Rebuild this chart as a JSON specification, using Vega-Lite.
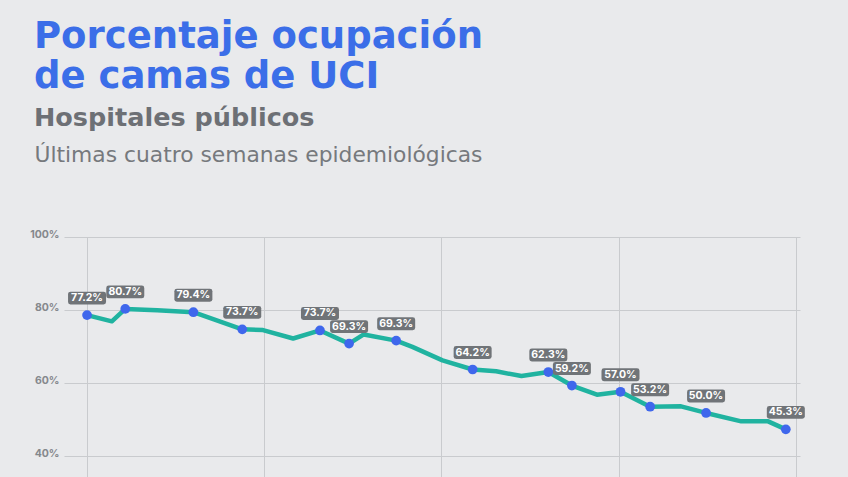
{
  "$schema": "https://vega.github.io/schema/vega-lite/v6.json",
  "width": 736,
  "height": 240,
  "autosize": {"type": "none"},
  "padding": {"left": 64, "top": 237, "right": 48, "bottom": 0},
  "background": "#e9eaec",
  "title": {
    "text": ["Porcentaje ocupación", "de camas de UCI"],
    "subtitle": "Hospitales públicos",
    "anchor": "start",
    "frame": "group",
    "dx": -30,
    "font": "DejaVu Sans",
    "fontSize": 37,
    "fontWeight": "bold",
    "lineHeight": 40,
    "color": "#3b6ee8",
    "subtitleFont": "DejaVu Sans",
    "subtitleFontSize": 25.5,
    "subtitleFontWeight": "bold",
    "subtitleColor": "#6d7075",
    "subtitlePadding": 10,
    "offset": 12
  },
  "config": {
    "view": {"stroke": null},
    "axis": {"gridColor": "#c9cbce", "gridWidth": 1, "domain": false, "ticks": false}
  },
  "data": {
    "values": [
      {"dia": 0, "ocupacion": 78.6, "etiqueta": "77.2%"},
      {"dia": 0.98, "ocupacion": 76.9, "etiqueta": null},
      {"dia": 1.51, "ocupacion": 80.3, "etiqueta": "80.7%"},
      {"dia": 2.77, "ocupacion": 79.9, "etiqueta": null},
      {"dia": 4.2, "ocupacion": 79.4, "etiqueta": "79.4%"},
      {"dia": 6.13, "ocupacion": 74.7, "etiqueta": "73.7%"},
      {"dia": 6.95, "ocupacion": 74.5, "etiqueta": null},
      {"dia": 8.14, "ocupacion": 72.2, "etiqueta": null},
      {"dia": 9.2, "ocupacion": 74.4, "etiqueta": "73.7%"},
      {"dia": 10.35, "ocupacion": 70.8, "etiqueta": "69.3%"},
      {"dia": 10.93, "ocupacion": 73.3, "etiqueta": null},
      {"dia": 12.21, "ocupacion": 71.6, "etiqueta": "69.3%"},
      {"dia": 12.85, "ocupacion": 69.9, "etiqueta": null},
      {"dia": 14.04, "ocupacion": 66.2, "etiqueta": null},
      {"dia": 15.23, "ocupacion": 63.7, "etiqueta": "64.2%"},
      {"dia": 16.16, "ocupacion": 63.2, "etiqueta": null},
      {"dia": 17.16, "ocupacion": 61.9, "etiqueta": null},
      {"dia": 18.22, "ocupacion": 63.0, "etiqueta": "62.3%"},
      {"dia": 19.15, "ocupacion": 59.3, "etiqueta": "59.2%"},
      {"dia": 20.14, "ocupacion": 56.8, "etiqueta": null},
      {"dia": 21.07, "ocupacion": 57.6, "etiqueta": "57.0%"},
      {"dia": 22.24, "ocupacion": 53.5, "etiqueta": "53.2%"},
      {"dia": 23.46, "ocupacion": 53.6, "etiqueta": null},
      {"dia": 24.45, "ocupacion": 51.8, "etiqueta": "50.0%"},
      {"dia": 25.84, "ocupacion": 49.5, "etiqueta": null},
      {"dia": 26.9, "ocupacion": 49.5, "etiqueta": null},
      {"dia": 27.6, "ocupacion": 47.3, "etiqueta": "45.3%"}
    ]
  },
  "encoding": {
    "x": {
      "field": "dia",
      "type": "quantitative",
      "scale": {"domain": [-0.91, 28.16], "nice": false, "zero": false},
      "axis": {
        "orient": "top",
        "values": [0, 7, 14, 21, 28],
        "labels": false,
        "title": "Últimas cuatro semanas epidemiológicas",
        "titleFont": "DejaVu Sans",
        "titleFontSize": 21.8,
        "titleFontWeight": "normal",
        "titleColor": "#76797d",
        "titleAnchor": "start",
        "titleAlign": "left",
        "titleBaseline": "alphabetic",
        "titleX": -30,
        "titleY": -76
      }
    },
    "y": {
      "field": "ocupacion",
      "type": "quantitative",
      "scale": {"domain": [34.25, 100], "nice": false, "zero": false},
      "axis": {
        "values": [40, 60, 80, 100],
        "labelExpr": "datum.value + '%'",
        "labelFont": "Inter",
        "labelFontSize": 10.5,
        "labelFontWeight": 700,
        "labelColor": "#85888c",
        "labelPadding": 5,
        "labelOffset": -3,
        "title": null
      }
    }
  },
  "layer": [
    {
      "mark": {"type": "line", "color": "#20b3a0", "strokeWidth": 4.5, "strokeJoin": "round"}
    },
    {
      "transform": [{"filter": "datum.etiqueta != null"}],
      "mark": {"type": "point", "shape": "circle", "filled": true, "opacity": 1, "size": 95, "color": "#3f67ec"}
    },
    {
      "transform": [{"filter": "datum.etiqueta != null"}],
      "mark": {
        "type": "point",
        "filled": true,
        "opacity": 1,
        "color": "#707478",
        "size": 1444,
        "yOffset": -17,
        "shape": "M-0.87,-0.34 L0.87,-0.34 Q1,-0.34 1,-0.21 L1,0.21 Q1,0.34 0.87,0.34 L-0.87,0.34 Q-1,0.34 -1,0.21 L-1,-0.21 Q-1,-0.34 -0.87,-0.34 Z"
      }
    },
    {
      "transform": [{"filter": "datum.etiqueta != null"}],
      "mark": {"type": "text", "color": "#ffffff", "font": "Inter", "fontSize": 10.5, "fontWeight": 700, "dy": -17, "baseline": "middle", "align": "center"},
      "encoding": {"text": {"field": "etiqueta"}}
    }
  ]
}
